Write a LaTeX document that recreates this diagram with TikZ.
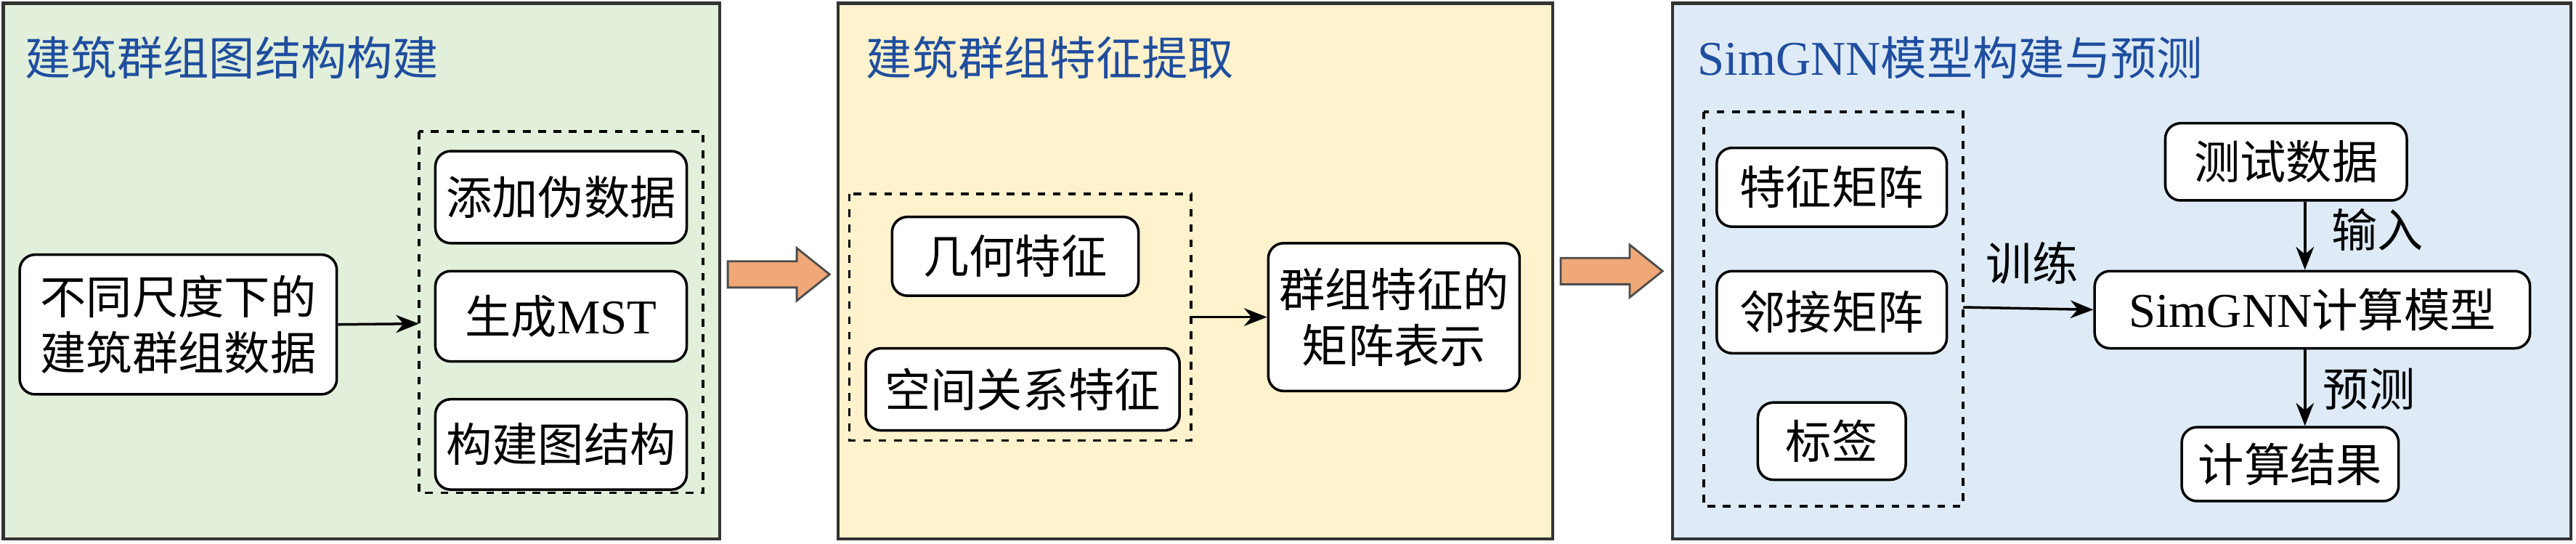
\documentclass[tikz,border=0pt]{standalone}
\usepackage{fontspec}
\setmainfont{Liberation Serif}
\newfontfamily\cjk{Noto Sans CJK SC}
\usetikzlibrary{arrows.meta}
\definecolor{pgreen}{HTML}{E2EFDA}
\definecolor{pyellow}{HTML}{FFF2CC}
\definecolor{pblue}{HTML}{DEEBF7}
\definecolor{ttl}{HTML}{1F4E9F}
\definecolor{parr}{HTML}{F0A878}
\begin{document}
\begin{tikzpicture}[x=0.02262cm,y=-0.02262cm,
 panel/.style={draw=black!80,line width=1.2pt},
 ttlstyle/.style={anchor=west,text=ttl,font=\fontsize{18}{21}\selectfont\cjk,inner sep=0},
 box/.style={draw,rounded corners=6pt,fill=white,line width=1pt,align=center,font=\fontsize{18}{22}\selectfont\cjk,inner sep=0},
 dbox/.style={draw,dashed,line width=1pt},
 con/.style={-{Stealth[length=9pt,width=7pt]},line width=1pt},
 lbl/.style={font=\fontsize{18}{21}\selectfont\cjk,inner sep=0},
 bigarr/.style={draw=black!70,fill=parr,line width=0.8pt}]
\useasboundingbox (0,0) rectangle (1568,330.7);
% panels
\draw[panel,fill=pgreen] (2,2) rectangle (438,328);
\draw[panel,fill=pyellow] (510,2) rectangle (945,328);
\draw[panel,fill=pblue] (1018,2) rectangle (1565,328);
\node[ttlstyle] (t1) at (15,35) {建筑群组图结构构建};
\node[ttlstyle] (t2) at (527,35) {建筑群组特征提取};
\node[ttlstyle] (t3) at (1033,35) {{\rmfamily\fontsize{19}{21}\selectfont SimGNN}模型构建与预测};
% panel 1
\node[box,minimum width=193*0.02262cm,minimum height=85*0.02262cm] (a) at (108.5,197.5) {不同尺度下的\\建筑群组数据};
\draw[dbox] (255,80) rectangle (428,300);
\coordinate (d1) at (255,197);
\node[box,minimum width=153*0.02262cm,minimum height=56*0.02262cm] (a1) at (341.5,120) {添加伪数据};
\node[box,minimum width=153*0.02262cm,minimum height=55*0.02262cm] (a2) at (341.5,192.5) {生成{\rmfamily\fontsize{19}{21}\selectfont MST}};
\node[box,minimum width=153*0.02262cm,minimum height=55*0.02262cm] (a3) at (341.5,270.5) {构建图结构};
\draw[con] (a.east) -- (d1);
\draw[bigarr] (443,159) -- (485,159) -- (485,151) -- (505,167) -- (485,183) -- (485,175) -- (443,175) -- cycle;
% panel 2
\draw[dbox] (517,118) rectangle (725,268);
\node[box,minimum width=150*0.02262cm,minimum height=48*0.02262cm] (b1) at (618,156) {几何特征};
\node[box,minimum width=191*0.02262cm,minimum height=50*0.02262cm] (b2) at (622.5,237) {空间关系特征};
\coordinate (d2) at (725,193);
\node[box,minimum width=153*0.02262cm,minimum height=90*0.02262cm] (b3) at (848.5,193) {群组特征的\\矩阵表示};
\draw[con] (d2) -- (b3.west);
\draw[bigarr] (950,157) -- (992,157) -- (992,149) -- (1012,165) -- (992,181) -- (992,173) -- (950,173) -- cycle;
% panel 3
\draw[dbox] (1037,68) rectangle (1195,308);
\node[box,minimum width=140*0.02262cm,minimum height=48*0.02262cm] (c1) at (1115,114) {特征矩阵};
\node[box,minimum width=140*0.02262cm,minimum height=50*0.02262cm] (c2) at (1115,190) {邻接矩阵};
\node[box,minimum width=90*0.02262cm,minimum height=47*0.02262cm] (c3) at (1115,268.5) {标签};
\coordinate (d3) at (1195,187);
\node[box,minimum width=147*0.02262cm,minimum height=47*0.02262cm] (e1) at (1391.5,98.5) {测试数据};
\node[box,minimum width=265*0.02262cm,minimum height=47*0.02262cm] (e2) at (1407.5,188.5) {{\rmfamily\fontsize{19}{21}\selectfont SimGNN}计算模型};
\node[box,minimum width=132*0.02262cm,minimum height=45*0.02262cm] (e3) at (1394,282.5) {计算结果};
\draw[con] (d3) -- (e2.west);
\node[lbl] (l1) at (1237,160) {训练};
\draw[con] (e1.south -| 1403,0) -- (e2.north -| 1403,0);
\draw[con] (e2.south -| 1403,0) -- (e3.north -| 1403,0);
\node[lbl] (l2) at (1447,140) {输入};
\node[lbl] (l3) at (1442,237) {预测};
\end{tikzpicture}
\end{document}
